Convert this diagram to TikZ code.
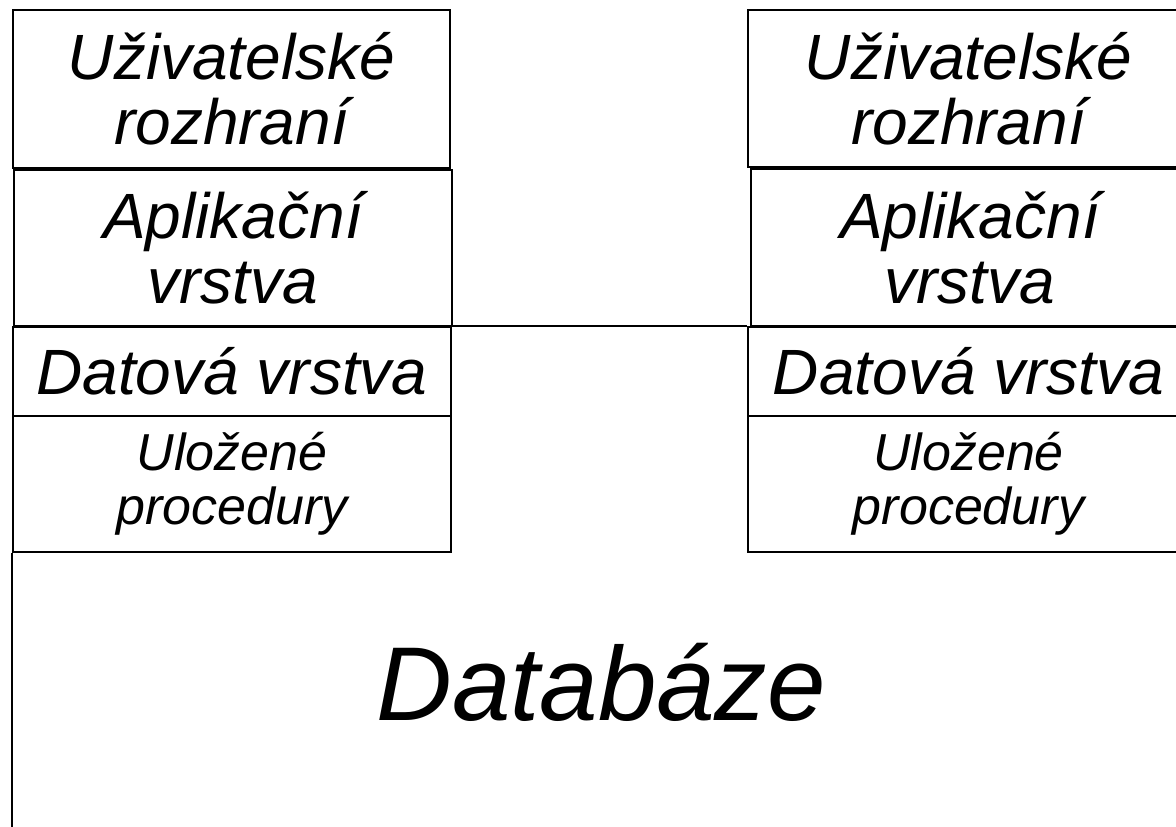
\documentclass[tikz,border=0pt]{standalone}
\usepackage{fontspec}
\setmainfont{Liberation Sans}
\begin{document}
\begin{tikzpicture}[x=1pt,y=-1pt,
  layer/.style={draw,line width=2pt,rectangle,inner sep=0pt,anchor=north west,align=center},
  big/.style={font=\fontsize{64}{65}\selectfont\itshape},
  small/.style={font=\fontsize{52}{54}\selectfont\itshape}]
\useasboundingbox (0,0) rectangle (1176,827);
% left stack
\node[layer,big,minimum width=437pt,minimum height=158pt] (l1) at (12,9) {Uživatelské\\rozhraní};
\node[layer,big,minimum width=438pt,minimum height=156pt] (l2) at (13,169) {Aplikační\\vrstva};
\node[layer,big,minimum width=438pt,minimum height=89pt] (l3) at (12,326) {Datová vrstva};
\node[layer,small,minimum width=438pt,minimum height=136pt] (l4) at (12,415) {Uložené\\procedury};
% right stack
\node[layer,big,minimum width=441pt,minimum height=157pt] (r1) at (747,9) {Uživatelské\\rozhraní};
\node[layer,big,minimum width=438pt,minimum height=157pt] (r2) at (750,168) {Aplikační\\vrstva};
\node[layer,big,minimum width=441pt,minimum height=89pt] (r3) at (747,326) {Datová vrstva};
\node[layer,small,minimum width=441pt,minimum height=136pt] (r4) at (747,415) {Uložené\\procedury};
% connector
\draw[line width=2pt] (l3.north east) -- (r3.north west);
% database
\coordinate (dbbottom) at (12,830);
\draw[line width=2pt] (l4.south west) -- (dbbottom);
\node[font=\fontsize{105}{105}\selectfont\itshape,inner sep=0pt,anchor=base] (db) at (601,720) {Databáze};
\end{tikzpicture}
\end{document}
